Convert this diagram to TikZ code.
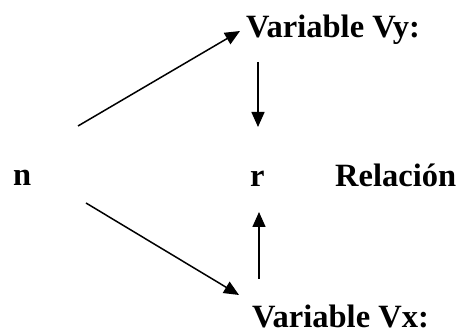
\documentclass[tikz,border=0pt]{standalone}
\usepackage{fontspec}
\setmainfont{Liberation Serif}
\usetikzlibrary{arrows.meta}
\begin{document}
\begin{tikzpicture}[x=1pt,y=-1pt,
  lbl/.style={inner sep=0pt,anchor=base west,font=\fontsize{32.5}{38}\selectfont\bfseries},
  arr/.style={line width=1.5pt,-{Triangle[length=15pt,width=13pt]}}]
\useasboundingbox (0,0) rectangle (456,334);
\node[lbl] (vy) at (246,38) {Variable Vy:};
\node[lbl] (n) at (13,186) {n};
\node[lbl] (r) at (250,187) {r};
\node[lbl] (rel) at (335,187) {Relación};
\node[lbl] (vx) at (252,328) {Variable Vx:};
\coordinate (a1s) at (78,126);
\coordinate (a1e) at (240,31);
\coordinate (a2s) at (258,62);
\coordinate (a2e) at (258,127);
\coordinate (a3s) at (86,203);
\coordinate (a3e) at (239,295);
\coordinate (a4s) at (259,279);
\coordinate (a4e) at (259,212);
\draw[arr] (a1s) -- (a1e);
\draw[arr] (a2s) -- (a2e);
\draw[arr] (a3s) -- (a3e);
\draw[arr] (a4s) -- (a4e);
\end{tikzpicture}
\end{document}
